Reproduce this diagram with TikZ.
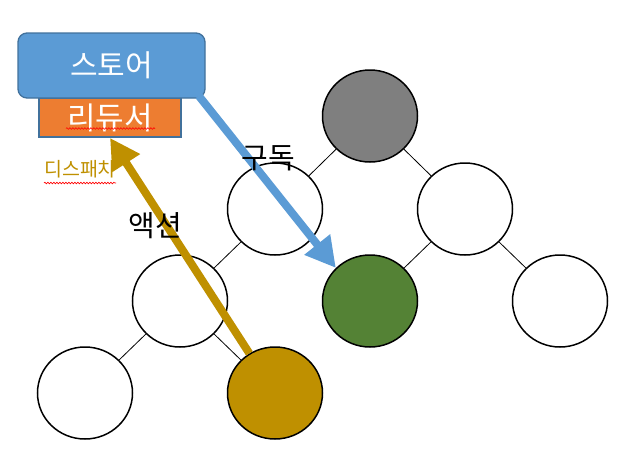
\documentclass[tikz,border=0pt]{standalone}
\usepackage{fontspec}
\setmainfont{Noto Sans CJK KR}
\usetikzlibrary{arrows.meta,positioning,shapes.geometric,calc,decorations.pathmorphing}
\definecolor{rdxblue}{HTML}{5B9BD5}
\definecolor{rdxedge}{HTML}{41719C}
\definecolor{rdxorange}{HTML}{ED7D31}
\definecolor{rdxgray}{HTML}{7F7F7F}
\definecolor{rdxgreen}{HTML}{548235}
\definecolor{rdxgold}{HTML}{BF9000}

\begin{document}
\begin{tikzpicture}[x=1pt, y=-1pt,
          leaf/.style={draw=black, line width=1.5pt, ellipse, fill=white,
                       minimum width=95pt, minimum height=92pt, inner sep=0pt},
          link/.style={draw=black, line width=0.8pt},
          storebox/.style={draw=rdxedge, line width=1.3pt, rounded corners=9pt,
                           fill=rdxblue, text=white, minimum width=187pt,
                           minimum height=65pt, inner sep=0pt, font=\fontsize{30}{32}\selectfont},
          redbox/.style={draw=rdxedge, line width=1.8pt, fill=rdxorange, text=white,
                         minimum width=142pt, minimum height=39pt, inner sep=0pt,
                         font=\fontsize{31}{32}\selectfont},
          tag/.style={font=\fontsize{29}{32}\selectfont, text=black, inner sep=0pt},
          squig/.style={draw=red, line width=0.6pt,
                        decorate, decoration={snake, amplitude=0.8pt, segment length=3pt}},
          subarr/.style={-{Triangle[length=30pt, width=31pt]}, line width=8pt, rdxblue},
          actarr/.style={-{Triangle[length=30pt, width=31pt]}, line width=8pt, rdxgold}
        ]
        \useasboundingbox (0,0) rectangle (625,474);
        % tree
        \node[leaf, fill=rdxgray] (root) at (370,116) {};
        \node[leaf] (l) at (275,209) {};
        \node[leaf] (r) at (465,209) {};
        \node[leaf] (ll) at (180,301) {};
        \node[leaf, fill=rdxgreen] (rl) at (370,301) {};
        \node[leaf] (rr) at (560,301) {};
        \node[leaf] (lll) at (85,393) {};
        \node[leaf, fill=rdxgold] (llr) at (275,393) {};
        \draw[link] (root) -- (l);
        \draw[link] (root) -- (r);
        \draw[link] (l) -- (ll);
        \draw[link] (r) -- (rl);
        \draw[link] (r) -- (rr);
        \draw[link] (ll) -- (lll);
        \draw[link] (ll) -- (llr);
        % store and reducer
        \node[redbox] (reducer) at (110,117.5) {리듀서};
        \node[storebox] (store) at (111.5,65.5) {스토어};
        \draw[squig] ($(reducer.center)+(-44,11)$) -- ++(89,0);
        \node[font=\fontsize{19.5}{22}\selectfont, text=rdxgold, inner sep=0pt] (dispatch) at (80,169) {디스패치};
        \draw[squig] ($(dispatch.south west)+(0,5)$) -- ($(dispatch.south east)+(0,5)$);
        % flows
        \draw[subarr] ([xshift=-7pt, yshift=3pt]store.south east) -- (rl.north west);
        \draw[actarr] (llr) -- (reducer.south);
        \node[tag] (subscribe) at (268,158) {구독};
        \node[tag] (action) at (155,226) {액션};
      \end{tikzpicture}
\end{document}
